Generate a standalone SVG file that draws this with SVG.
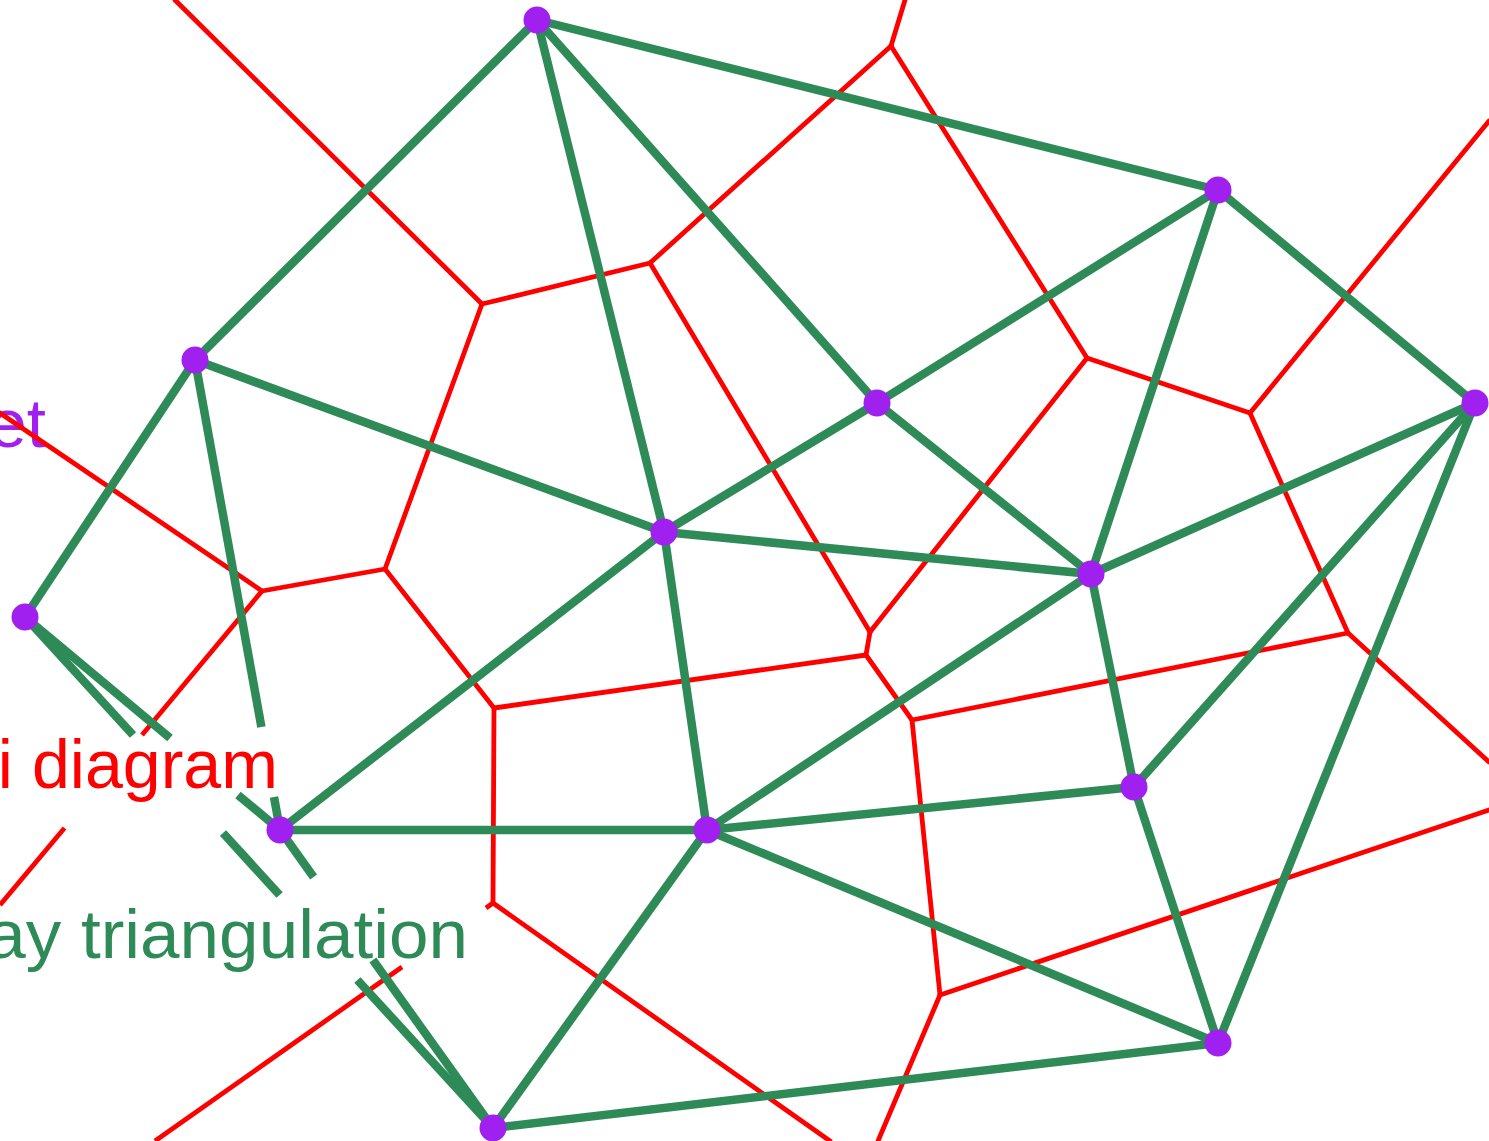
<svg xmlns="http://www.w3.org/2000/svg" width="1489" height="1141" viewBox="0 0 1489 1141">
<style>
.lbl{font-family:"Liberation Sans","DejaVu Sans",sans-serif;font-size:69px}
.v{stroke:#ff0000;stroke-width:4.8;stroke-linecap:round;fill:none}
.vb{stroke:#ff0000;stroke-width:4.8;stroke-linecap:butt;fill:none}
.d{stroke:#2e8b57;stroke-width:8.5;stroke-linecap:butt;fill:none}
.pt{fill:#a020f0}
</style>
<rect width="1489" height="1141" fill="#ffffff"/>
<g id="labels">
<text class="lbl" x="46" y="447" text-anchor="end" fill="#a020f0">Point set</text>
<text class="lbl" x="-218" y="788" textLength="496" lengthAdjust="spacingAndGlyphs" fill="#ff0000">Voronoi diagram</text>
<text class="lbl" x="-239" y="958" textLength="707" lengthAdjust="spacingAndGlyphs" fill="#2e8b57">Delaunay triangulation</text>
</g>
<g id="connectors">
<g id="voronoi">
<line class="v" x1="891" y1="46" x2="905" y2="0"/>
<line class="v" x1="891" y1="46" x2="650" y2="263"/>
<line class="v" x1="891" y1="46" x2="1087" y2="358"/>
<line class="v" x1="650" y1="263" x2="482" y2="304"/>
<line class="v" x1="650" y1="263" x2="870" y2="632"/>
<line class="v" x1="870" y1="632" x2="1087" y2="358"/>
<line class="v" x1="870" y1="632" x2="866" y2="655"/>
<line class="v" x1="1087" y1="358" x2="1250" y2="413"/>
<line class="v" x1="1250" y1="413" x2="1489" y2="121"/>
<line class="v" x1="1250" y1="413" x2="1348" y2="633"/>
<line class="v" x1="1348" y1="633" x2="1489" y2="762"/>
<line class="v" x1="1348" y1="633" x2="912" y2="720"/>
<line class="v" x1="866" y1="655" x2="494" y2="708"/>
<line class="v" x1="866" y1="655" x2="912" y2="720"/>
<line class="v" x1="912" y1="720" x2="940" y2="995"/>
<line class="v" x1="940" y1="995" x2="1489" y2="810"/>
<line class="v" x1="940" y1="995" x2="878" y2="1141"/>
<line class="v" x1="494" y1="708" x2="385" y2="569"/>
<line class="v" x1="494" y1="708" x2="493" y2="903"/>
<line class="v" x1="493" y1="903" x2="830" y2="1141"/>
<line class="vb" x1="493" y1="903" x2="486" y2="908"/>
<line class="vb" x1="402" y1="967" x2="155" y2="1141"/>
<line class="v" x1="385" y1="569" x2="482" y2="304"/>
<line class="v" x1="385" y1="569" x2="262" y2="591"/>
<line class="v" x1="482" y1="304" x2="175" y2="0"/>
<line class="v" x1="262" y1="591" x2="0" y2="413"/>
<line class="vb" x1="262" y1="591" x2="142" y2="735"/>
<line class="vb" x1="64.5" y1="828" x2="0" y2="905"/>
</g>
<g id="delaunay">
<line class="d" x1="537" y1="20" x2="1218" y2="190"/>
<line class="d" x1="537" y1="20" x2="195" y2="360"/>
<line class="d" x1="537" y1="20" x2="664" y2="532"/>
<line class="d" x1="537" y1="20" x2="877" y2="403"/>
<line class="d" x1="1218" y1="190" x2="877" y2="403"/>
<line class="d" x1="1218" y1="190" x2="1091" y2="574"/>
<line class="d" x1="1218" y1="190" x2="1475" y2="403"/>
<line class="d" x1="195" y1="360" x2="664" y2="532"/>
<line class="d" x1="195" y1="360" x2="25" y2="617"/>
<line class="d" x1="195" y1="360" x2="261.4" y2="727"/>
<line class="d" x1="274" y1="797" x2="280" y2="830"/>
<line class="d" x1="877" y1="403" x2="664" y2="532"/>
<line class="d" x1="877" y1="403" x2="1091" y2="574"/>
<line class="d" x1="1475" y1="403" x2="1091" y2="574"/>
<line class="d" x1="1475" y1="403" x2="1134" y2="787"/>
<line class="d" x1="1475" y1="403" x2="1218" y2="1043"/>
<line class="d" x1="664" y1="532" x2="1091" y2="574"/>
<line class="d" x1="664" y1="532" x2="280" y2="830"/>
<line class="d" x1="664" y1="532" x2="707" y2="830"/>
<line class="d" x1="1091" y1="574" x2="707" y2="830"/>
<line class="d" x1="1091" y1="574" x2="1134" y2="787"/>
<line class="d" x1="1134" y1="787" x2="707" y2="830"/>
<line class="d" x1="1134" y1="787" x2="1218" y2="1043"/>
<line class="d" x1="280" y1="830" x2="707" y2="830"/>
<line class="d" x1="707" y1="830" x2="1218" y2="1043"/>
<line class="d" x1="707" y1="830" x2="493" y2="1128"/>
<line class="d" x1="1218" y1="1043" x2="493" y2="1128"/>
<line class="d" x1="25" y1="617" x2="133" y2="735"/>
<line class="d" x1="223" y1="833" x2="279.6" y2="895"/>
<line class="d" x1="357.4" y1="980" x2="493" y2="1128"/>
<line class="d" x1="25" y1="617" x2="170" y2="738"/>
<line class="d" x1="238" y1="795" x2="280" y2="830"/>
<line class="d" x1="280" y1="830" x2="313.6" y2="877"/>
<line class="d" x1="372.9" y1="960" x2="493" y2="1128"/>
</g>
</g>
<g id="nodes">
<g id="p1"><circle class="pt" cx="537" cy="20" r="13.5"/></g>
<g id="p2"><circle class="pt" cx="1218" cy="190" r="13.5"/></g>
<g id="p3"><circle class="pt" cx="195" cy="360" r="13.5"/></g>
<g id="p4"><circle class="pt" cx="877" cy="403" r="13.5"/></g>
<g id="p5"><circle class="pt" cx="1475" cy="403" r="13.5"/></g>
<g id="p6"><circle class="pt" cx="25" cy="617" r="13.5"/></g>
<g id="p7"><circle class="pt" cx="664" cy="532" r="13.5"/></g>
<g id="p8"><circle class="pt" cx="1091" cy="574" r="13.5"/></g>
<g id="p9"><circle class="pt" cx="1134" cy="787" r="13.5"/></g>
<g id="p10"><circle class="pt" cx="280" cy="830" r="13.5"/></g>
<g id="p11"><circle class="pt" cx="707" cy="830" r="13.5"/></g>
<g id="p12"><circle class="pt" cx="1218" cy="1043" r="13.5"/></g>
<g id="p13"><circle class="pt" cx="493" cy="1128" r="13.5"/></g>
</g>
</svg>
